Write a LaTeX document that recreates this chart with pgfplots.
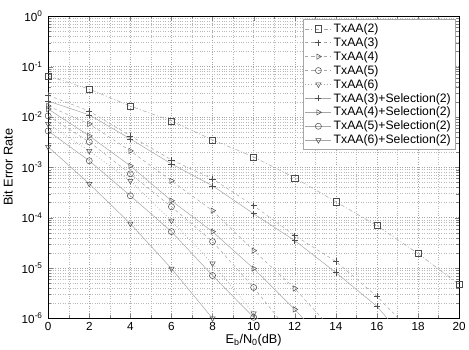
\documentclass[border=0pt]{standalone}
\usepackage{pgfplots}
\pgfplotsset{compat=1.18}
\usepackage{fontspec}
\setmainfont{Liberation Sans}
\begin{document}
\begin{tikzpicture}
\begin{axis}[
  scale only axis,
  width=404pt, height=297pt,
  ymode=log,
  xmin=0, xmax=20, ymin=1e-6, ymax=1,
  xtick={0,2,4,6,8,10,12,14,16,18,20},
  xticklabels={0,2,4,6,8,10,12,14,16,18,20},
  minor x tick num=1,
  ytick={1e-6,1e-5,1e-4,1e-3,1e-2,1e-1,1},
  yticklabels={10\textsuperscript{-6},10\textsuperscript{-5},10\textsuperscript{-4},10\textsuperscript{-3},10\textsuperscript{-2},10\textsuperscript{-1},10\textsuperscript{0}},
  tick align=inside,
  grid=both,
  major grid style={dotted, gray!70},
  minor grid style={dotted, gray!55},
  tick label style={font=\fontsize{11.5}{13}\selectfont},
  yticklabel style={xshift=-2pt},
  xlabel={E\textsubscript{b}/N\textsubscript{0}(dB)},
  ylabel={Bit Error Rate},
  label style={font=\fontsize{12.5}{14}\selectfont},
  xlabel style={yshift=3pt},
  ylabel style={yshift=2pt},
  clip=true,
  legend style={at={(0.99,0.99)}, anchor=north east, font=\fontsize{12}{13}\selectfont, draw=gray!70, row sep=-0.5pt, cells={anchor=west}, inner sep=2pt},
  legend image code/.code={\draw[mark repeat=2,mark phase=2] plot coordinates {(0cm,0cm) (0.45cm,0cm) (0.9cm,0cm)};},
  every axis plot/.append style={gray!70, line width=0.5pt, mark size=3pt},
]
\addplot[dash pattern=on 4pt off 2pt on 1pt off 2pt, mark=square, mark options={solid, gray!60!black}] coordinates {(0,0.065) (2,0.0358) (4,0.0165) (6,0.00833) (8,0.00351) (10,0.00161) (12,6.19e-4) (14,2.07e-4) (16,6.95e-5) (18,1.94e-5) (20,4.71e-6)};
\addlegendentry{TxAA(2)}
\addplot[dash pattern=on 3pt off 3pt, mark=+, mark options={solid, gray!60!black}] coordinates {(0,0.027) (2,0.0131) (4,0.00421) (6,0.00141) (8,5.92e-4) (10,1.73e-4) (12,4.41e-5) (14,1.35e-5) (16,2.73e-6) (18,4e-7)};
\addlegendentry{TxAA(3)}
\addplot[dash pattern=on 3pt off 3pt, mark=triangle, mark options={solid, gray!60!black, rotate=-90}] coordinates {(0,0.0165) (2,0.00727) (4,0.00212) (6,5.40e-4) (8,1.38e-4) (10,2.22e-5) (12,3.93e-6) (14,5e-7)};
\addlegendentry{TxAA(4)}
\addplot[dash pattern=on 3pt off 3pt, mark=o, mark options={solid, gray!60!black}] coordinates {(0,0.0105) (2,0.0032) (4,7.43e-4) (6,1.65e-4) (8,3.35e-5) (10,4.11e-6) (12,4e-7)};
\addlegendentry{TxAA(5)}
\addplot[dash pattern=on 1pt off 2pt, mark=triangle, mark options={solid, gray!60!black, rotate=180}] coordinates {(0,0.00727) (2,0.00212) (4,5.40e-4) (6,8.73e-5) (8,1.23e-5) (10,1.26e-6) (12,1e-7)};
\addlegendentry{TxAA(6)}
\addplot[solid, mark=+, mark options={solid, gray!60!black}] coordinates {(0,0.0207) (2,0.0110) (4,0.00367) (6,0.00117) (8,4.30e-4) (10,1.20e-4) (12,3.51e-5) (14,8.14e-6) (16,1.73e-6) (18,2e-7)};
\addlegendentry{TxAA(3)+Selection(2)}
\addplot[solid, mark=triangle, mark options={solid, gray!60!black, rotate=-90}] coordinates {(0,0.0144) (2,0.00421) (4,0.00107) (6,2.17e-4) (8,5.29e-5) (10,9.77e-6) (12,1.51e-6) (14,2e-7)};
\addlegendentry{TxAA(4)+Selection(2)}
\addplot[solid, mark=o, mark options={solid, gray!60!black}] coordinates {(0,0.00528) (2,0.00135) (4,2.73e-4) (6,5.29e-5) (8,7.10e-6) (10,1.05e-6) (12,1e-7)};
\addlegendentry{TxAA(5)+Selection(2)}
\addplot[solid, mark=triangle, mark options={solid, gray!60!black, rotate=180}] coordinates {(0,0.00255) (2,4.71e-4) (4,7.61e-5) (6,9.77e-6) (8,1.0e-6) (10,8e-8)};
\addlegendentry{TxAA(6)+Selection(2)}
\end{axis}
\path ([yshift=16pt]current axis.north);
\end{tikzpicture}
\end{document}
